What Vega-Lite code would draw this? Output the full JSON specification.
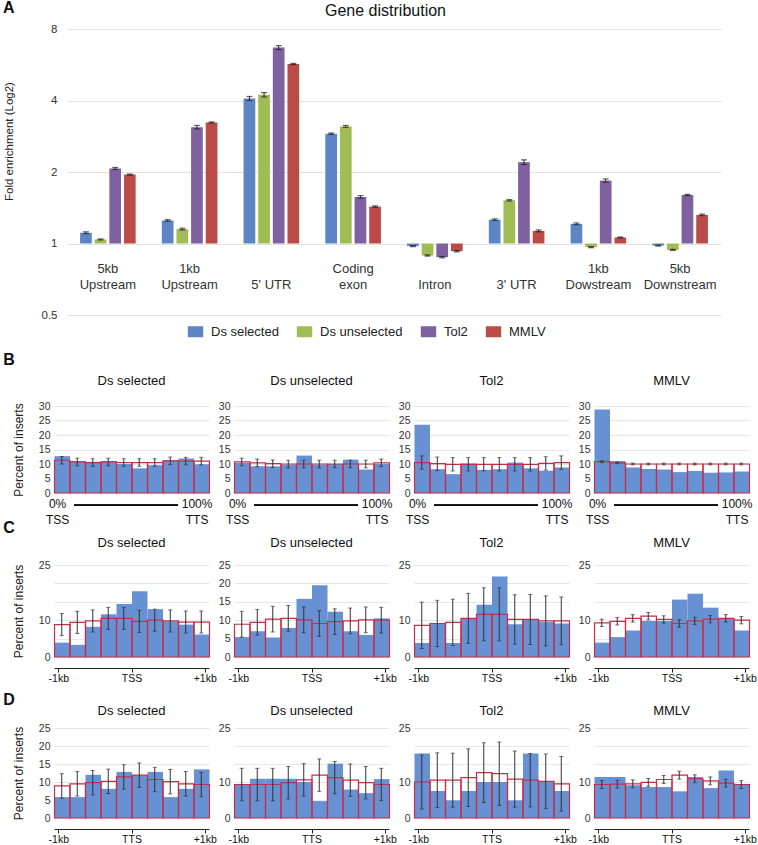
{
"$schema":"https://vega.github.io/schema/vega-lite/v6.json",
"padding":{"left":3,"top":0,"right":0,"bottom":0},
"config":{"font":"Liberation Sans","view":{"stroke":null},"title":{"fontWeight":"normal","color":"#111","fontSize":13},"axis":{"labelColor":"#333","titleColor":"#222","titleFontWeight":"normal","labelOverlap":false}},
"datasets":{
"geneA":[
{"cat":"5kb Upstream","series":"Ds selected","value":1.11,"lo":1.10,"hi":1.12},
{"cat":"5kb Upstream","series":"Ds unselected","value":1.04,"lo":1.035,"hi":1.045},
{"cat":"5kb Upstream","series":"Tol2","value":2.07,"lo":2.05,"hi":2.09},
{"cat":"5kb Upstream","series":"MMLV","value":1.95,"lo":1.94,"hi":1.96},
{"cat":"1kb Upstream","series":"Ds selected","value":1.25,"lo":1.24,"hi":1.26},
{"cat":"1kb Upstream","series":"Ds unselected","value":1.15,"lo":1.14,"hi":1.16},
{"cat":"1kb Upstream","series":"Tol2","value":3.09,"lo":3.04,"hi":3.14},
{"cat":"1kb Upstream","series":"MMLV","value":3.23,"lo":3.21,"hi":3.25},
{"cat":"5' UTR","series":"Ds selected","value":4.08,"lo":4.0,"hi":4.16},
{"cat":"5' UTR","series":"Ds unselected","value":4.23,"lo":4.14,"hi":4.32},
{"cat":"5' UTR","series":"Tol2","value":6.68,"lo":6.55,"hi":6.81},
{"cat":"5' UTR","series":"MMLV","value":5.70,"lo":5.67,"hi":5.73},
{"cat":"Coding exon","series":"Ds selected","value":2.90,"lo":2.88,"hi":2.92},
{"cat":"Coding exon","series":"Ds unselected","value":3.11,"lo":3.08,"hi":3.14},
{"cat":"Coding exon","series":"Tol2","value":1.57,"lo":1.55,"hi":1.59},
{"cat":"Coding exon","series":"MMLV","value":1.43,"lo":1.42,"hi":1.44},
{"cat":"Intron","series":"Ds selected","value":0.975,"lo":0.97,"hi":0.98},
{"cat":"Intron","series":"Ds unselected","value":0.89,"lo":0.885,"hi":0.895},
{"cat":"Intron","series":"Tol2","value":0.876,"lo":0.87,"hi":0.882},
{"cat":"Intron","series":"MMLV","value":0.928,"lo":0.922,"hi":0.934},
{"cat":"3' UTR","series":"Ds selected","value":1.26,"lo":1.25,"hi":1.27},
{"cat":"3' UTR","series":"Ds unselected","value":1.52,"lo":1.51,"hi":1.53},
{"cat":"3' UTR","series":"Tol2","value":2.20,"lo":2.15,"hi":2.25},
{"cat":"3' UTR","series":"MMLV","value":1.13,"lo":1.12,"hi":1.14},
{"cat":"1kb Dowstream","series":"Ds selected","value":1.21,"lo":1.2,"hi":1.22},
{"cat":"1kb Dowstream","series":"Ds unselected","value":0.965,"lo":0.96,"hi":0.97},
{"cat":"1kb Dowstream","series":"Tol2","value":1.84,"lo":1.81,"hi":1.87},
{"cat":"1kb Dowstream","series":"MMLV","value":1.06,"lo":1.055,"hi":1.065},
{"cat":"5kb Downstream","series":"Ds selected","value":0.98,"lo":0.975,"hi":0.985},
{"cat":"5kb Downstream","series":"Ds unselected","value":0.94,"lo":0.935,"hi":0.945},
{"cat":"5kb Downstream","series":"Tol2","value":1.60,"lo":1.59,"hi":1.61},
{"cat":"5kb Downstream","series":"MMLV","value":1.32,"lo":1.31,"hi":1.33}
],
"hist":[
{"row":"B","panel":"Ds selected","start":0,"end":10,"mid":5,"obs":12.7,"exp":11.3,"lo":10.0,"hi":12.6},
{"row":"B","panel":"Ds selected","start":10,"end":20,"mid":15,"obs":11.0,"exp":10.7,"lo":9.4,"hi":12.0},
{"row":"B","panel":"Ds selected","start":20,"end":30,"mid":25,"obs":10.5,"exp":10.5,"lo":9.2,"hi":11.8},
{"row":"B","panel":"Ds selected","start":30,"end":40,"mid":35,"obs":11.0,"exp":10.7,"lo":9.4,"hi":12.0},
{"row":"B","panel":"Ds selected","start":40,"end":50,"mid":45,"obs":10.0,"exp":10.5,"lo":9.2,"hi":11.8},
{"row":"B","panel":"Ds selected","start":50,"end":60,"mid":55,"obs":8.5,"exp":10.5,"lo":9.2,"hi":11.8},
{"row":"B","panel":"Ds selected","start":60,"end":70,"mid":65,"obs":9.6,"exp":10.5,"lo":9.2,"hi":11.8},
{"row":"B","panel":"Ds selected","start":70,"end":80,"mid":75,"obs":11.3,"exp":11.1,"lo":9.8,"hi":12.4},
{"row":"B","panel":"Ds selected","start":80,"end":90,"mid":85,"obs":11.9,"exp":11.0,"lo":9.7,"hi":12.3},
{"row":"B","panel":"Ds selected","start":90,"end":100,"mid":95,"obs":9.9,"exp":11.0,"lo":9.7,"hi":12.3},
{"row":"B","panel":"Ds unselected","start":0,"end":10,"mid":5,"obs":10.4,"exp":10.7,"lo":9.4,"hi":12.0},
{"row":"B","panel":"Ds unselected","start":10,"end":20,"mid":15,"obs":9.2,"exp":10.4,"lo":9.1,"hi":11.7},
{"row":"B","panel":"Ds unselected","start":20,"end":30,"mid":25,"obs":9.2,"exp":10.1,"lo":8.8,"hi":11.4},
{"row":"B","panel":"Ds unselected","start":30,"end":40,"mid":35,"obs":9.8,"exp":10.0,"lo":8.7,"hi":11.3},
{"row":"B","panel":"Ds unselected","start":40,"end":50,"mid":45,"obs":12.9,"exp":10.0,"lo":8.7,"hi":11.3},
{"row":"B","panel":"Ds unselected","start":50,"end":60,"mid":55,"obs":9.8,"exp":10.0,"lo":8.7,"hi":11.3},
{"row":"B","panel":"Ds unselected","start":60,"end":70,"mid":65,"obs":10.0,"exp":10.0,"lo":8.7,"hi":11.3},
{"row":"B","panel":"Ds unselected","start":70,"end":80,"mid":75,"obs":11.5,"exp":10.0,"lo":8.7,"hi":11.3},
{"row":"B","panel":"Ds unselected","start":80,"end":90,"mid":85,"obs":8.1,"exp":10.0,"lo":8.7,"hi":11.3},
{"row":"B","panel":"Ds unselected","start":90,"end":100,"mid":95,"obs":10.0,"exp":10.4,"lo":9.1,"hi":11.7},
{"row":"B","panel":"Tol2","start":0,"end":10,"mid":5,"obs":23.5,"exp":10.5,"lo":8.2,"hi":12.8},
{"row":"B","panel":"Tol2","start":10,"end":20,"mid":15,"obs":8.2,"exp":10.1,"lo":7.8,"hi":12.4},
{"row":"B","panel":"Tol2","start":20,"end":30,"mid":25,"obs":6.5,"exp":9.9,"lo":7.6,"hi":12.2},
{"row":"B","panel":"Tol2","start":30,"end":40,"mid":35,"obs":10.2,"exp":9.9,"lo":7.6,"hi":12.2},
{"row":"B","panel":"Tol2","start":40,"end":50,"mid":45,"obs":8.0,"exp":9.9,"lo":7.6,"hi":12.2},
{"row":"B","panel":"Tol2","start":50,"end":60,"mid":55,"obs":8.2,"exp":9.9,"lo":7.6,"hi":12.2},
{"row":"B","panel":"Tol2","start":60,"end":70,"mid":65,"obs":10.5,"exp":9.9,"lo":7.6,"hi":12.2},
{"row":"B","panel":"Tol2","start":70,"end":80,"mid":75,"obs":8.5,"exp":9.9,"lo":7.6,"hi":12.2},
{"row":"B","panel":"Tol2","start":80,"end":90,"mid":85,"obs":7.7,"exp":10.2,"lo":7.9,"hi":12.5},
{"row":"B","panel":"Tol2","start":90,"end":100,"mid":95,"obs":8.8,"exp":10.5,"lo":8.2,"hi":12.8},
{"row":"B","panel":"MMLV","start":0,"end":10,"mid":5,"obs":28.8,"exp":10.8,"lo":10.5,"hi":11.1},
{"row":"B","panel":"MMLV","start":10,"end":20,"mid":15,"obs":11.0,"exp":10.4,"lo":10.1,"hi":10.7},
{"row":"B","panel":"MMLV","start":20,"end":30,"mid":25,"obs":8.8,"exp":10.0,"lo":9.7,"hi":10.3},
{"row":"B","panel":"MMLV","start":30,"end":40,"mid":35,"obs":8.3,"exp":10.0,"lo":9.7,"hi":10.3},
{"row":"B","panel":"MMLV","start":40,"end":50,"mid":45,"obs":8.1,"exp":10.0,"lo":9.7,"hi":10.3},
{"row":"B","panel":"MMLV","start":50,"end":60,"mid":55,"obs":7.2,"exp":10.0,"lo":9.7,"hi":10.3},
{"row":"B","panel":"MMLV","start":60,"end":70,"mid":65,"obs":7.6,"exp":10.0,"lo":9.7,"hi":10.3},
{"row":"B","panel":"MMLV","start":70,"end":80,"mid":75,"obs":7.0,"exp":10.0,"lo":9.7,"hi":10.3},
{"row":"B","panel":"MMLV","start":80,"end":90,"mid":85,"obs":7.1,"exp":10.0,"lo":9.7,"hi":10.3},
{"row":"B","panel":"MMLV","start":90,"end":100,"mid":95,"obs":7.4,"exp":10.0,"lo":9.7,"hi":10.3},
{"row":"C","panel":"Ds selected","start":-1000,"end":-800,"mid":-900,"obs":3.9,"exp":8.8,"lo":5.8,"hi":11.8},
{"row":"C","panel":"Ds selected","start":-800,"end":-600,"mid":-700,"obs":3.3,"exp":9.4,"lo":6.4,"hi":12.4},
{"row":"C","panel":"Ds selected","start":-600,"end":-400,"mid":-500,"obs":8.2,"exp":9.8,"lo":6.8,"hi":12.8},
{"row":"C","panel":"Ds selected","start":-400,"end":-200,"mid":-300,"obs":11.6,"exp":10.5,"lo":7.5,"hi":13.5},
{"row":"C","panel":"Ds selected","start":-200,"end":0,"mid":-100,"obs":14.4,"exp":10.5,"lo":7.5,"hi":13.5},
{"row":"C","panel":"Ds selected","start":0,"end":200,"mid":100,"obs":17.9,"exp":9.7,"lo":6.7,"hi":12.7},
{"row":"C","panel":"Ds selected","start":200,"end":400,"mid":300,"obs":13.0,"exp":10.0,"lo":7.0,"hi":13.0},
{"row":"C","panel":"Ds selected","start":400,"end":600,"mid":500,"obs":9.7,"exp":9.8,"lo":6.8,"hi":12.8},
{"row":"C","panel":"Ds selected","start":600,"end":800,"mid":700,"obs":8.8,"exp":9.5,"lo":6.5,"hi":12.5},
{"row":"C","panel":"Ds selected","start":800,"end":1000,"mid":900,"obs":6.1,"exp":9.5,"lo":6.5,"hi":12.5},
{"row":"C","panel":"Ds unselected","start":-1000,"end":-800,"mid":-900,"obs":5.4,"exp":8.9,"lo":5.4,"hi":12.4},
{"row":"C","panel":"Ds unselected","start":-800,"end":-600,"mid":-700,"obs":7.0,"exp":9.4,"lo":5.9,"hi":12.9},
{"row":"C","panel":"Ds unselected","start":-600,"end":-400,"mid":-500,"obs":5.3,"exp":10.3,"lo":6.8,"hi":13.8},
{"row":"C","panel":"Ds unselected","start":-400,"end":-200,"mid":-300,"obs":7.9,"exp":10.5,"lo":7.0,"hi":14.0},
{"row":"C","panel":"Ds unselected","start":-200,"end":0,"mid":-100,"obs":15.8,"exp":10.1,"lo":6.6,"hi":13.6},
{"row":"C","panel":"Ds unselected","start":0,"end":200,"mid":100,"obs":19.5,"exp":9.1,"lo":5.6,"hi":12.6},
{"row":"C","panel":"Ds unselected","start":200,"end":400,"mid":300,"obs":12.3,"exp":9.6,"lo":6.1,"hi":13.1},
{"row":"C","panel":"Ds unselected","start":400,"end":600,"mid":500,"obs":7.0,"exp":9.8,"lo":6.3,"hi":13.3},
{"row":"C","panel":"Ds unselected","start":600,"end":800,"mid":700,"obs":6.0,"exp":10.1,"lo":6.6,"hi":13.6},
{"row":"C","panel":"Ds unselected","start":800,"end":1000,"mid":900,"obs":10.5,"exp":10.0,"lo":6.5,"hi":13.5},
{"row":"C","panel":"Tol2","start":-1000,"end":-800,"mid":-900,"obs":3.8,"exp":8.6,"lo":2.3,"hi":14.9},
{"row":"C","panel":"Tol2","start":-800,"end":-600,"mid":-700,"obs":9.1,"exp":9.1,"lo":2.8,"hi":15.4},
{"row":"C","panel":"Tol2","start":-600,"end":-400,"mid":-500,"obs":3.8,"exp":9.4,"lo":3.1,"hi":15.7},
{"row":"C","panel":"Tol2","start":-400,"end":-200,"mid":-300,"obs":10.5,"exp":10.5,"lo":3.7,"hi":17.3},
{"row":"C","panel":"Tol2","start":-200,"end":0,"mid":-100,"obs":14.2,"exp":11.6,"lo":4.4,"hi":18.8},
{"row":"C","panel":"Tol2","start":0,"end":200,"mid":100,"obs":21.9,"exp":11.6,"lo":4.4,"hi":18.8},
{"row":"C","panel":"Tol2","start":200,"end":400,"mid":300,"obs":8.9,"exp":10.2,"lo":3.5,"hi":16.9},
{"row":"C","panel":"Tol2","start":400,"end":600,"mid":500,"obs":10.3,"exp":10.2,"lo":3.4,"hi":17.0},
{"row":"C","panel":"Tol2","start":600,"end":800,"mid":700,"obs":9.5,"exp":9.8,"lo":3.0,"hi":16.6},
{"row":"C","panel":"Tol2","start":800,"end":1000,"mid":900,"obs":9.1,"exp":9.8,"lo":3.3,"hi":16.3},
{"row":"C","panel":"MMLV","start":-1000,"end":-800,"mid":-900,"obs":3.9,"exp":9.3,"lo":8.3,"hi":10.3},
{"row":"C","panel":"MMLV","start":-800,"end":-600,"mid":-700,"obs":5.4,"exp":9.7,"lo":8.7,"hi":10.7},
{"row":"C","panel":"MMLV","start":-600,"end":-400,"mid":-500,"obs":7.2,"exp":10.5,"lo":9.5,"hi":11.5},
{"row":"C","panel":"MMLV","start":-400,"end":-200,"mid":-300,"obs":9.8,"exp":11.1,"lo":10.1,"hi":12.1},
{"row":"C","panel":"MMLV","start":-200,"end":0,"mid":-100,"obs":9.8,"exp":10.2,"lo":9.2,"hi":11.2},
{"row":"C","panel":"MMLV","start":0,"end":200,"mid":100,"obs":15.6,"exp":9.1,"lo":8.1,"hi":10.1},
{"row":"C","panel":"MMLV","start":200,"end":400,"mid":300,"obs":17.2,"exp":9.8,"lo":8.8,"hi":10.8},
{"row":"C","panel":"MMLV","start":400,"end":600,"mid":500,"obs":13.4,"exp":10.3,"lo":9.3,"hi":11.3},
{"row":"C","panel":"MMLV","start":600,"end":800,"mid":700,"obs":10.5,"exp":10.5,"lo":9.5,"hi":11.5},
{"row":"C","panel":"MMLV","start":800,"end":1000,"mid":900,"obs":7.2,"exp":10.0,"lo":9.0,"hi":11.0},
{"row":"D","panel":"Ds selected","start":-1000,"end":-800,"mid":-900,"obs":5.8,"exp":8.9,"lo":5.5,"hi":12.3},
{"row":"D","panel":"Ds selected","start":-800,"end":-600,"mid":-700,"obs":5.8,"exp":9.5,"lo":6.1,"hi":12.9},
{"row":"D","panel":"Ds selected","start":-600,"end":-400,"mid":-500,"obs":12.0,"exp":9.8,"lo":6.4,"hi":13.2},
{"row":"D","panel":"Ds selected","start":-400,"end":-200,"mid":-300,"obs":8.1,"exp":10.2,"lo":6.8,"hi":13.6},
{"row":"D","panel":"Ds selected","start":-200,"end":0,"mid":-100,"obs":12.8,"exp":11.4,"lo":8.0,"hi":14.8},
{"row":"D","panel":"Ds selected","start":0,"end":200,"mid":100,"obs":11.9,"exp":11.9,"lo":8.5,"hi":15.3},
{"row":"D","panel":"Ds selected","start":200,"end":400,"mid":300,"obs":12.8,"exp":10.7,"lo":7.3,"hi":14.1},
{"row":"D","panel":"Ds selected","start":400,"end":600,"mid":500,"obs":5.8,"exp":10.1,"lo":6.7,"hi":13.5},
{"row":"D","panel":"Ds selected","start":600,"end":800,"mid":700,"obs":8.1,"exp":9.5,"lo":6.1,"hi":12.9},
{"row":"D","panel":"Ds selected","start":800,"end":1000,"mid":900,"obs":13.5,"exp":9.3,"lo":5.9,"hi":12.7},
{"row":"D","panel":"Ds unselected","start":-1000,"end":-800,"mid":-900,"obs":9.3,"exp":9.3,"lo":4.8,"hi":13.8},
{"row":"D","panel":"Ds unselected","start":-800,"end":-600,"mid":-700,"obs":10.9,"exp":9.3,"lo":4.8,"hi":13.8},
{"row":"D","panel":"Ds unselected","start":-600,"end":-400,"mid":-500,"obs":10.9,"exp":9.3,"lo":4.8,"hi":13.8},
{"row":"D","panel":"Ds unselected","start":-400,"end":-200,"mid":-300,"obs":10.9,"exp":9.8,"lo":5.3,"hi":14.3},
{"row":"D","panel":"Ds unselected","start":-200,"end":0,"mid":-100,"obs":10.0,"exp":10.6,"lo":6.1,"hi":15.1},
{"row":"D","panel":"Ds unselected","start":0,"end":200,"mid":100,"obs":4.7,"exp":11.9,"lo":7.4,"hi":16.4},
{"row":"D","panel":"Ds unselected","start":200,"end":400,"mid":300,"obs":15.1,"exp":11.2,"lo":6.7,"hi":15.7},
{"row":"D","panel":"Ds unselected","start":400,"end":600,"mid":500,"obs":7.9,"exp":10.5,"lo":6.0,"hi":15.0},
{"row":"D","panel":"Ds unselected","start":600,"end":800,"mid":700,"obs":6.9,"exp":9.8,"lo":5.3,"hi":14.3},
{"row":"D","panel":"Ds unselected","start":800,"end":1000,"mid":900,"obs":10.8,"exp":9.3,"lo":4.8,"hi":13.8},
{"row":"D","panel":"Tol2","start":-1000,"end":-800,"mid":-900,"obs":17.9,"exp":10.0,"lo":2.5,"hi":17.5},
{"row":"D","panel":"Tol2","start":-800,"end":-600,"mid":-700,"obs":7.5,"exp":10.5,"lo":2.9,"hi":18.1},
{"row":"D","panel":"Tol2","start":-600,"end":-400,"mid":-500,"obs":4.9,"exp":10.5,"lo":3.0,"hi":18.0},
{"row":"D","panel":"Tol2","start":-400,"end":-200,"mid":-300,"obs":7.5,"exp":11.2,"lo":3.2,"hi":19.2},
{"row":"D","panel":"Tol2","start":-200,"end":0,"mid":-100,"obs":10.0,"exp":12.6,"lo":4.3,"hi":20.9},
{"row":"D","panel":"Tol2","start":0,"end":200,"mid":100,"obs":10.0,"exp":12.3,"lo":3.5,"hi":21.1},
{"row":"D","panel":"Tol2","start":200,"end":400,"mid":300,"obs":4.9,"exp":10.8,"lo":3.0,"hi":18.6},
{"row":"D","panel":"Tol2","start":400,"end":600,"mid":500,"obs":17.9,"exp":10.5,"lo":3.1,"hi":17.9},
{"row":"D","panel":"Tol2","start":600,"end":800,"mid":700,"obs":10.0,"exp":10.2,"lo":2.6,"hi":17.8},
{"row":"D","panel":"Tol2","start":800,"end":1000,"mid":900,"obs":7.5,"exp":9.5,"lo":1.9,"hi":17.1},
{"row":"D","panel":"MMLV","start":-1000,"end":-800,"mid":-900,"obs":11.4,"exp":9.3,"lo":8.2,"hi":10.4},
{"row":"D","panel":"MMLV","start":-800,"end":-600,"mid":-700,"obs":11.4,"exp":9.4,"lo":8.3,"hi":10.5},
{"row":"D","panel":"MMLV","start":-600,"end":-400,"mid":-500,"obs":9.1,"exp":9.5,"lo":8.4,"hi":10.6},
{"row":"D","panel":"MMLV","start":-400,"end":-200,"mid":-300,"obs":8.6,"exp":9.9,"lo":8.8,"hi":11.0},
{"row":"D","panel":"MMLV","start":-200,"end":0,"mid":-100,"obs":8.6,"exp":10.7,"lo":9.6,"hi":11.8},
{"row":"D","panel":"MMLV","start":0,"end":200,"mid":100,"obs":7.4,"exp":11.9,"lo":10.8,"hi":13.0},
{"row":"D","panel":"MMLV","start":200,"end":400,"mid":300,"obs":11.4,"exp":10.9,"lo":9.8,"hi":12.0},
{"row":"D","panel":"MMLV","start":400,"end":600,"mid":500,"obs":8.3,"exp":10.3,"lo":9.2,"hi":11.4},
{"row":"D","panel":"MMLV","start":600,"end":800,"mid":700,"obs":13.2,"exp":9.7,"lo":8.6,"hi":10.8},
{"row":"D","panel":"MMLV","start":800,"end":1000,"mid":900,"obs":9.3,"exp":9.3,"lo":8.2,"hi":10.4}
]
},
"columns":1,
"align":"none",
"spacing":{"row":-10,"column":0},
"concat":[
{
"data":{"name":"geneA"},
"title":{"text":"A","anchor":"start","frame":"bounds","fontSize":16,"fontWeight":"bold","offset":-13},
"hconcat":[{
"width":667,"height":286,
"title":{"text":"Gene distribution","fontSize":16,"offset":4,"frame":"group","dx":-2},
"encoding":{
"x":{"field":"cat","type":"nominal","sort":["5kb Upstream","1kb Upstream","5' UTR","Coding exon","Intron","3' UTR","1kb Dowstream","5kb Downstream"],"scale":{"range":[13,667],"paddingInner":0.32,"paddingOuter":0.16},
"axis":{"title":null,"domain":false,"ticks":false,"labelAngle":0,"labelFontSize":13,"labelColor":"#333","labelPadding":0,"offset":-47,"labelBaseline":"middle","labelLineHeight":16,"labelExpr":"indexof(datum.label, 'UTR') >= 0 || datum.label == 'Intron' ? ['', datum.label] : split(datum.label, ' ')"}},
"xOffset":{"field":"series","type":"nominal","sort":["Ds selected","Ds unselected","Tol2","MMLV"],"scale":{"paddingInner":0.2,"paddingOuter":0}}
},
"layer":[
{"mark":{"type":"bar"},
"encoding":{
"y":{"field":"value","type":"quantitative","scale":{"type":"log","base":2,"domain":[0.5,8],"nice":false},
"axis":{"title":"Fold enrichment (Log2)","values":[0.5,1,2,4,8],"format":"~g","domain":false,"ticks":false,"gridColor":"#e2e2e2","labelFontSize":11.5,"labelPadding":-3,"labelOverlap":false,"titleFontSize":11.5,"titlePadding":27,"titleY":112}},
"y2":{"datum":1},
"color":{"field":"series","type":"nominal","scale":{"domain":["Ds selected","Ds unselected","Tol2","MMLV"],"range":["#5d85c4","#a0bc55","#7f61a0","#bb4b47"]},
"legend":{"orient":"none","legendX":135,"legendY":296,"direction":"horizontal","title":null,"labelFontSize":13,"labelColor":"#222","symbolType":"M-1.4,-1H1.4V1H-1.4Z","symbolSize":121,"symbolStrokeWidth":0,"columnPadding":17,"labelOffset":9}}
}},
{"mark":{"type":"rule","color":"#222"},"encoding":{"y":{"field":"lo","type":"quantitative"},"y2":{"field":"hi"}}},
{"mark":{"type":"tick","orient":"horizontal","size":6,"thickness":1.2,"color":"#222"},"encoding":{"y":{"field":"lo","type":"quantitative"}}},
{"mark":{"type":"tick","orient":"horizontal","size":6,"thickness":1.2,"color":"#222"},"encoding":{"y":{"field":"hi","type":"quantitative"}}}
]
}]
},
{
"data":{"name":"hist"},
"title":{"text":["","B"],"lineHeight":41,"anchor":"start","frame":"bounds","fontSize":16,"fontWeight":"bold","offset":7,"dx":-9},
"bounds":"flush","spacing":25,
"hconcat":[
{"width":155,"height":87,"title":{"text":"Ds selected","offset":13},
"transform":[{"filter":"datum.row == 'B' && datum.panel == 'Ds selected'"}],
"layer":[
{"mark":{"type":"bar","color":"#6791d2","binSpacing":0},"encoding":{
"x":{"field":"start","type":"quantitative","bin":"binned","scale":{"domain":[0,100],"nice":false,"zero":false},"axis":{"title":null,"values":[2,92],"labelExpr":"datum.value < 50 ? ['0%','TSS'] : ['100%','TTS']","domain":false,"ticks":false,"grid":false,"labelFontSize":12,"labelColor":"#111","labelPadding":5,"labelLineHeight":16,"labelFlush":false,"labelOverlap":false}},
"x2":{"field":"end"},
"y":{"field":"obs","type":"quantitative","scale":{"domain":[0,30],"nice":false},"axis":{"title":"Percent of inserts","values":[0,5,10,15,20,25,30],"domain":false,"ticks":false,"gridColor":"#e6e6e6","labelFontSize":10.5,"labelPadding":4,"labelOverlap":false,"titleFontSize":12,"titlePadding":13}}}},
{"mark":{"type":"bar","filled":false,"color":"#c62f48","strokeWidth":1.2,"binSpacing":0},"encoding":{
"x":{"field":"start","type":"quantitative","bin":"binned","axis":{"title":null,"values":[2,92],"labelExpr":"datum.value < 50 ? ['0%','TSS'] : ['100%','TTS']","domain":false,"ticks":false,"grid":false,"labelFontSize":12,"labelColor":"#111","labelPadding":5,"labelLineHeight":16,"labelFlush":false,"labelOverlap":false}},
"x2":{"field":"end"},
"y":{"field":"exp","type":"quantitative","axis":{"title":"Percent of inserts","values":[0,5,10,15,20,25,30],"domain":false,"ticks":false,"gridColor":"#e6e6e6","labelFontSize":10.5,"labelPadding":4,"labelOverlap":false,"titleFontSize":12,"titlePadding":13}}}},
{"mark":{"type":"rule","color":"#333"},"encoding":{
"x":{"field":"mid","type":"quantitative","axis":{"title":null,"values":[2,92],"labelExpr":"datum.value < 50 ? ['0%','TSS'] : ['100%','TTS']","domain":false,"ticks":false,"grid":false,"labelFontSize":12,"labelColor":"#111","labelPadding":5,"labelLineHeight":16,"labelFlush":false,"labelOverlap":false}},
"y":{"field":"lo","type":"quantitative","axis":{"title":"Percent of inserts","values":[0,5,10,15,20,25,30],"domain":false,"ticks":false,"gridColor":"#e6e6e6","labelFontSize":10.5,"labelPadding":4,"labelOverlap":false,"titleFontSize":12,"titlePadding":13}},"y2":{"field":"hi"}}},
{"mark":{"type":"tick","orient":"horizontal","size":4,"thickness":1,"color":"#333"},"encoding":{
"x":{"field":"mid","type":"quantitative","axis":{"title":null,"values":[2,92],"labelExpr":"datum.value < 50 ? ['0%','TSS'] : ['100%','TTS']","domain":false,"ticks":false,"grid":false,"labelFontSize":12,"labelColor":"#111","labelPadding":5,"labelLineHeight":16,"labelFlush":false,"labelOverlap":false}},
"y":{"field":"lo","type":"quantitative","axis":{"title":"Percent of inserts","values":[0,5,10,15,20,25,30],"domain":false,"ticks":false,"gridColor":"#e6e6e6","labelFontSize":10.5,"labelPadding":4,"labelOverlap":false,"titleFontSize":12,"titlePadding":13}}}},
{"mark":{"type":"tick","orient":"horizontal","size":4,"thickness":1,"color":"#333"},"encoding":{
"x":{"field":"mid","type":"quantitative","axis":{"title":null,"values":[2,92],"labelExpr":"datum.value < 50 ? ['0%','TSS'] : ['100%','TTS']","domain":false,"ticks":false,"grid":false,"labelFontSize":12,"labelColor":"#111","labelPadding":5,"labelLineHeight":16,"labelFlush":false,"labelOverlap":false}},
"y":{"field":"hi","type":"quantitative","axis":{"title":"Percent of inserts","values":[0,5,10,15,20,25,30],"domain":false,"ticks":false,"gridColor":"#e6e6e6","labelFontSize":10.5,"labelPadding":4,"labelOverlap":false,"titleFontSize":12,"titlePadding":13}}}},
{"mark":{"type":"rule","clip":false,"color":"#111","strokeWidth":1.2},"encoding":{
"x":{"datum":13,"axis":{"title":null,"values":[2,92],"labelExpr":"datum.value < 50 ? ['0%','TSS'] : ['100%','TTS']","domain":false,"ticks":false,"grid":false,"labelFontSize":12,"labelColor":"#111","labelPadding":5,"labelLineHeight":16,"labelFlush":false,"labelOverlap":false}},"x2":{"datum":80},
"y":{"datum":-4.3,"axis":{"title":"Percent of inserts","values":[0,5,10,15,20,25,30],"domain":false,"ticks":false,"gridColor":"#e6e6e6","labelFontSize":10.5,"labelPadding":4,"labelOverlap":false,"titleFontSize":12,"titlePadding":13}}}}
]},
{"width":155,"height":87,"title":{"text":"Ds unselected","offset":13},
"transform":[{"filter":"datum.row == 'B' && datum.panel == 'Ds unselected'"}],
"layer":[
{"mark":{"type":"bar","color":"#6791d2","binSpacing":0},"encoding":{
"x":{"field":"start","type":"quantitative","bin":"binned","scale":{"domain":[0,100],"nice":false,"zero":false},"axis":{"title":null,"values":[2,92],"labelExpr":"datum.value < 50 ? ['0%','TSS'] : ['100%','TTS']","domain":false,"ticks":false,"grid":false,"labelFontSize":12,"labelColor":"#111","labelPadding":5,"labelLineHeight":16,"labelFlush":false,"labelOverlap":false}},
"x2":{"field":"end"},
"y":{"field":"obs","type":"quantitative","scale":{"domain":[0,30],"nice":false},"axis":{"title":null,"values":[0,5,10,15,20,25,30],"domain":false,"ticks":false,"gridColor":"#e6e6e6","labelFontSize":10.5,"labelPadding":4,"labelOverlap":false}}}},
{"mark":{"type":"bar","filled":false,"color":"#c62f48","strokeWidth":1.2,"binSpacing":0},"encoding":{
"x":{"field":"start","type":"quantitative","bin":"binned","axis":{"title":null,"values":[2,92],"labelExpr":"datum.value < 50 ? ['0%','TSS'] : ['100%','TTS']","domain":false,"ticks":false,"grid":false,"labelFontSize":12,"labelColor":"#111","labelPadding":5,"labelLineHeight":16,"labelFlush":false,"labelOverlap":false}},
"x2":{"field":"end"},
"y":{"field":"exp","type":"quantitative","axis":{"title":null,"values":[0,5,10,15,20,25,30],"domain":false,"ticks":false,"gridColor":"#e6e6e6","labelFontSize":10.5,"labelPadding":4,"labelOverlap":false}}}},
{"mark":{"type":"rule","color":"#333"},"encoding":{
"x":{"field":"mid","type":"quantitative","axis":{"title":null,"values":[2,92],"labelExpr":"datum.value < 50 ? ['0%','TSS'] : ['100%','TTS']","domain":false,"ticks":false,"grid":false,"labelFontSize":12,"labelColor":"#111","labelPadding":5,"labelLineHeight":16,"labelFlush":false,"labelOverlap":false}},
"y":{"field":"lo","type":"quantitative","axis":{"title":null,"values":[0,5,10,15,20,25,30],"domain":false,"ticks":false,"gridColor":"#e6e6e6","labelFontSize":10.5,"labelPadding":4,"labelOverlap":false}},"y2":{"field":"hi"}}},
{"mark":{"type":"tick","orient":"horizontal","size":4,"thickness":1,"color":"#333"},"encoding":{
"x":{"field":"mid","type":"quantitative","axis":{"title":null,"values":[2,92],"labelExpr":"datum.value < 50 ? ['0%','TSS'] : ['100%','TTS']","domain":false,"ticks":false,"grid":false,"labelFontSize":12,"labelColor":"#111","labelPadding":5,"labelLineHeight":16,"labelFlush":false,"labelOverlap":false}},
"y":{"field":"lo","type":"quantitative","axis":{"title":null,"values":[0,5,10,15,20,25,30],"domain":false,"ticks":false,"gridColor":"#e6e6e6","labelFontSize":10.5,"labelPadding":4,"labelOverlap":false}}}},
{"mark":{"type":"tick","orient":"horizontal","size":4,"thickness":1,"color":"#333"},"encoding":{
"x":{"field":"mid","type":"quantitative","axis":{"title":null,"values":[2,92],"labelExpr":"datum.value < 50 ? ['0%','TSS'] : ['100%','TTS']","domain":false,"ticks":false,"grid":false,"labelFontSize":12,"labelColor":"#111","labelPadding":5,"labelLineHeight":16,"labelFlush":false,"labelOverlap":false}},
"y":{"field":"hi","type":"quantitative","axis":{"title":null,"values":[0,5,10,15,20,25,30],"domain":false,"ticks":false,"gridColor":"#e6e6e6","labelFontSize":10.5,"labelPadding":4,"labelOverlap":false}}}},
{"mark":{"type":"rule","clip":false,"color":"#111","strokeWidth":1.2},"encoding":{
"x":{"datum":13,"axis":{"title":null,"values":[2,92],"labelExpr":"datum.value < 50 ? ['0%','TSS'] : ['100%','TTS']","domain":false,"ticks":false,"grid":false,"labelFontSize":12,"labelColor":"#111","labelPadding":5,"labelLineHeight":16,"labelFlush":false,"labelOverlap":false}},"x2":{"datum":80},
"y":{"datum":-4.3,"axis":{"title":null,"values":[0,5,10,15,20,25,30],"domain":false,"ticks":false,"gridColor":"#e6e6e6","labelFontSize":10.5,"labelPadding":4,"labelOverlap":false}}}}
]},
{"width":155,"height":87,"title":{"text":"Tol2","offset":13},
"transform":[{"filter":"datum.row == 'B' && datum.panel == 'Tol2'"}],
"layer":[
{"mark":{"type":"bar","color":"#6791d2","binSpacing":0},"encoding":{
"x":{"field":"start","type":"quantitative","bin":"binned","scale":{"domain":[0,100],"nice":false,"zero":false},"axis":{"title":null,"values":[2,92],"labelExpr":"datum.value < 50 ? ['0%','TSS'] : ['100%','TTS']","domain":false,"ticks":false,"grid":false,"labelFontSize":12,"labelColor":"#111","labelPadding":5,"labelLineHeight":16,"labelFlush":false,"labelOverlap":false}},
"x2":{"field":"end"},
"y":{"field":"obs","type":"quantitative","scale":{"domain":[0,30],"nice":false},"axis":{"title":null,"values":[0,5,10,15,20,25,30],"domain":false,"ticks":false,"gridColor":"#e6e6e6","labelFontSize":10.5,"labelPadding":4,"labelOverlap":false}}}},
{"mark":{"type":"bar","filled":false,"color":"#c62f48","strokeWidth":1.2,"binSpacing":0},"encoding":{
"x":{"field":"start","type":"quantitative","bin":"binned","axis":{"title":null,"values":[2,92],"labelExpr":"datum.value < 50 ? ['0%','TSS'] : ['100%','TTS']","domain":false,"ticks":false,"grid":false,"labelFontSize":12,"labelColor":"#111","labelPadding":5,"labelLineHeight":16,"labelFlush":false,"labelOverlap":false}},
"x2":{"field":"end"},
"y":{"field":"exp","type":"quantitative","axis":{"title":null,"values":[0,5,10,15,20,25,30],"domain":false,"ticks":false,"gridColor":"#e6e6e6","labelFontSize":10.5,"labelPadding":4,"labelOverlap":false}}}},
{"mark":{"type":"rule","color":"#333"},"encoding":{
"x":{"field":"mid","type":"quantitative","axis":{"title":null,"values":[2,92],"labelExpr":"datum.value < 50 ? ['0%','TSS'] : ['100%','TTS']","domain":false,"ticks":false,"grid":false,"labelFontSize":12,"labelColor":"#111","labelPadding":5,"labelLineHeight":16,"labelFlush":false,"labelOverlap":false}},
"y":{"field":"lo","type":"quantitative","axis":{"title":null,"values":[0,5,10,15,20,25,30],"domain":false,"ticks":false,"gridColor":"#e6e6e6","labelFontSize":10.5,"labelPadding":4,"labelOverlap":false}},"y2":{"field":"hi"}}},
{"mark":{"type":"tick","orient":"horizontal","size":4,"thickness":1,"color":"#333"},"encoding":{
"x":{"field":"mid","type":"quantitative","axis":{"title":null,"values":[2,92],"labelExpr":"datum.value < 50 ? ['0%','TSS'] : ['100%','TTS']","domain":false,"ticks":false,"grid":false,"labelFontSize":12,"labelColor":"#111","labelPadding":5,"labelLineHeight":16,"labelFlush":false,"labelOverlap":false}},
"y":{"field":"lo","type":"quantitative","axis":{"title":null,"values":[0,5,10,15,20,25,30],"domain":false,"ticks":false,"gridColor":"#e6e6e6","labelFontSize":10.5,"labelPadding":4,"labelOverlap":false}}}},
{"mark":{"type":"tick","orient":"horizontal","size":4,"thickness":1,"color":"#333"},"encoding":{
"x":{"field":"mid","type":"quantitative","axis":{"title":null,"values":[2,92],"labelExpr":"datum.value < 50 ? ['0%','TSS'] : ['100%','TTS']","domain":false,"ticks":false,"grid":false,"labelFontSize":12,"labelColor":"#111","labelPadding":5,"labelLineHeight":16,"labelFlush":false,"labelOverlap":false}},
"y":{"field":"hi","type":"quantitative","axis":{"title":null,"values":[0,5,10,15,20,25,30],"domain":false,"ticks":false,"gridColor":"#e6e6e6","labelFontSize":10.5,"labelPadding":4,"labelOverlap":false}}}},
{"mark":{"type":"rule","clip":false,"color":"#111","strokeWidth":1.2},"encoding":{
"x":{"datum":13,"axis":{"title":null,"values":[2,92],"labelExpr":"datum.value < 50 ? ['0%','TSS'] : ['100%','TTS']","domain":false,"ticks":false,"grid":false,"labelFontSize":12,"labelColor":"#111","labelPadding":5,"labelLineHeight":16,"labelFlush":false,"labelOverlap":false}},"x2":{"datum":80},
"y":{"datum":-4.3,"axis":{"title":null,"values":[0,5,10,15,20,25,30],"domain":false,"ticks":false,"gridColor":"#e6e6e6","labelFontSize":10.5,"labelPadding":4,"labelOverlap":false}}}}
]},
{"width":155,"height":87,"title":{"text":"MMLV","offset":13},
"transform":[{"filter":"datum.row == 'B' && datum.panel == 'MMLV'"}],
"layer":[
{"mark":{"type":"bar","color":"#6791d2","binSpacing":0},"encoding":{
"x":{"field":"start","type":"quantitative","bin":"binned","scale":{"domain":[0,100],"nice":false,"zero":false},"axis":{"title":null,"values":[2,92],"labelExpr":"datum.value < 50 ? ['0%','TSS'] : ['100%','TTS']","domain":false,"ticks":false,"grid":false,"labelFontSize":12,"labelColor":"#111","labelPadding":5,"labelLineHeight":16,"labelFlush":false,"labelOverlap":false}},
"x2":{"field":"end"},
"y":{"field":"obs","type":"quantitative","scale":{"domain":[0,30],"nice":false},"axis":{"title":null,"values":[0,5,10,15,20,25,30],"domain":false,"ticks":false,"gridColor":"#e6e6e6","labelFontSize":10.5,"labelPadding":4,"labelOverlap":false}}}},
{"mark":{"type":"bar","filled":false,"color":"#c62f48","strokeWidth":1.2,"binSpacing":0},"encoding":{
"x":{"field":"start","type":"quantitative","bin":"binned","axis":{"title":null,"values":[2,92],"labelExpr":"datum.value < 50 ? ['0%','TSS'] : ['100%','TTS']","domain":false,"ticks":false,"grid":false,"labelFontSize":12,"labelColor":"#111","labelPadding":5,"labelLineHeight":16,"labelFlush":false,"labelOverlap":false}},
"x2":{"field":"end"},
"y":{"field":"exp","type":"quantitative","axis":{"title":null,"values":[0,5,10,15,20,25,30],"domain":false,"ticks":false,"gridColor":"#e6e6e6","labelFontSize":10.5,"labelPadding":4,"labelOverlap":false}}}},
{"mark":{"type":"rule","color":"#333"},"encoding":{
"x":{"field":"mid","type":"quantitative","axis":{"title":null,"values":[2,92],"labelExpr":"datum.value < 50 ? ['0%','TSS'] : ['100%','TTS']","domain":false,"ticks":false,"grid":false,"labelFontSize":12,"labelColor":"#111","labelPadding":5,"labelLineHeight":16,"labelFlush":false,"labelOverlap":false}},
"y":{"field":"lo","type":"quantitative","axis":{"title":null,"values":[0,5,10,15,20,25,30],"domain":false,"ticks":false,"gridColor":"#e6e6e6","labelFontSize":10.5,"labelPadding":4,"labelOverlap":false}},"y2":{"field":"hi"}}},
{"mark":{"type":"tick","orient":"horizontal","size":4,"thickness":1,"color":"#333"},"encoding":{
"x":{"field":"mid","type":"quantitative","axis":{"title":null,"values":[2,92],"labelExpr":"datum.value < 50 ? ['0%','TSS'] : ['100%','TTS']","domain":false,"ticks":false,"grid":false,"labelFontSize":12,"labelColor":"#111","labelPadding":5,"labelLineHeight":16,"labelFlush":false,"labelOverlap":false}},
"y":{"field":"lo","type":"quantitative","axis":{"title":null,"values":[0,5,10,15,20,25,30],"domain":false,"ticks":false,"gridColor":"#e6e6e6","labelFontSize":10.5,"labelPadding":4,"labelOverlap":false}}}},
{"mark":{"type":"tick","orient":"horizontal","size":4,"thickness":1,"color":"#333"},"encoding":{
"x":{"field":"mid","type":"quantitative","axis":{"title":null,"values":[2,92],"labelExpr":"datum.value < 50 ? ['0%','TSS'] : ['100%','TTS']","domain":false,"ticks":false,"grid":false,"labelFontSize":12,"labelColor":"#111","labelPadding":5,"labelLineHeight":16,"labelFlush":false,"labelOverlap":false}},
"y":{"field":"hi","type":"quantitative","axis":{"title":null,"values":[0,5,10,15,20,25,30],"domain":false,"ticks":false,"gridColor":"#e6e6e6","labelFontSize":10.5,"labelPadding":4,"labelOverlap":false}}}},
{"mark":{"type":"rule","clip":false,"color":"#111","strokeWidth":1.2},"encoding":{
"x":{"datum":13,"axis":{"title":null,"values":[2,92],"labelExpr":"datum.value < 50 ? ['0%','TSS'] : ['100%','TTS']","domain":false,"ticks":false,"grid":false,"labelFontSize":12,"labelColor":"#111","labelPadding":5,"labelLineHeight":16,"labelFlush":false,"labelOverlap":false}},"x2":{"datum":80},
"y":{"datum":-4.3,"axis":{"title":null,"values":[0,5,10,15,20,25,30],"domain":false,"ticks":false,"gridColor":"#e6e6e6","labelFontSize":10.5,"labelPadding":4,"labelOverlap":false}}}}
]}
]
},
{
"data":{"name":"hist"},
"title":{"text":["","C"],"lineHeight":5,"anchor":"start","frame":"bounds","fontSize":16,"fontWeight":"bold","offset":1,"dx":-9},
"bounds":"flush","spacing":25,
"hconcat":[
{"width":155,"height":92,"title":{"text":"Ds selected","offset":10},
"transform":[{"filter":"datum.row == 'C' && datum.panel == 'Ds selected'"}],
"layer":[
{"mark":{"type":"bar","color":"#6791d2","binSpacing":0},"encoding":{
"x":{"field":"start","type":"quantitative","bin":"binned","scale":{"domain":[-1000,1000],"nice":false,"zero":false},"axis":{"title":null,"values":[-945,0,945],"labelExpr":"datum.value < 0 ? '-1kb' : (datum.value > 0 ? '+1kb' : 'TSS')","domainColor":"#222","tickColor":"#222","tickSize":4,"offset":11,"grid":false,"labelFontSize":10.5,"labelColor":"#111","labelPadding":1,"labelFlush":false,"labelOverlap":false}},
"x2":{"field":"end"},
"y":{"field":"obs","type":"quantitative","scale":{"domain":[0,25],"nice":false},"axis":{"title":"Percent of inserts","values":[0,5,10,15,20,25],"labelExpr":"indexof([0,10,25], datum.value) >= 0 ? datum.label : ''","domain":false,"ticks":false,"gridColor":"#e6e6e6","labelFontSize":10.5,"labelPadding":4,"labelOverlap":false,"titleFontSize":12,"titlePadding":13}}}},
{"mark":{"type":"bar","filled":false,"color":"#c62f48","strokeWidth":1.2,"binSpacing":0},"encoding":{
"x":{"field":"start","type":"quantitative","bin":"binned","axis":{"title":null,"values":[-945,0,945],"labelExpr":"datum.value < 0 ? '-1kb' : (datum.value > 0 ? '+1kb' : 'TSS')","domainColor":"#222","tickColor":"#222","tickSize":4,"offset":11,"grid":false,"labelFontSize":10.5,"labelColor":"#111","labelPadding":1,"labelFlush":false,"labelOverlap":false}},
"x2":{"field":"end"},
"y":{"field":"exp","type":"quantitative","axis":{"title":"Percent of inserts","values":[0,5,10,15,20,25],"labelExpr":"indexof([0,10,25], datum.value) >= 0 ? datum.label : ''","domain":false,"ticks":false,"gridColor":"#e6e6e6","labelFontSize":10.5,"labelPadding":4,"labelOverlap":false,"titleFontSize":12,"titlePadding":13}}}},
{"mark":{"type":"rule","color":"#333"},"encoding":{
"x":{"field":"mid","type":"quantitative","axis":{"title":null,"values":[-945,0,945],"labelExpr":"datum.value < 0 ? '-1kb' : (datum.value > 0 ? '+1kb' : 'TSS')","domainColor":"#222","tickColor":"#222","tickSize":4,"offset":11,"grid":false,"labelFontSize":10.5,"labelColor":"#111","labelPadding":1,"labelFlush":false,"labelOverlap":false}},
"y":{"field":"lo","type":"quantitative","axis":{"title":"Percent of inserts","values":[0,5,10,15,20,25],"labelExpr":"indexof([0,10,25], datum.value) >= 0 ? datum.label : ''","domain":false,"ticks":false,"gridColor":"#e6e6e6","labelFontSize":10.5,"labelPadding":4,"labelOverlap":false,"titleFontSize":12,"titlePadding":13}},"y2":{"field":"hi"}}},
{"mark":{"type":"tick","orient":"horizontal","size":4,"thickness":1,"color":"#333"},"encoding":{
"x":{"field":"mid","type":"quantitative","axis":{"title":null,"values":[-945,0,945],"labelExpr":"datum.value < 0 ? '-1kb' : (datum.value > 0 ? '+1kb' : 'TSS')","domainColor":"#222","tickColor":"#222","tickSize":4,"offset":11,"grid":false,"labelFontSize":10.5,"labelColor":"#111","labelPadding":1,"labelFlush":false,"labelOverlap":false}},
"y":{"field":"lo","type":"quantitative","axis":{"title":"Percent of inserts","values":[0,5,10,15,20,25],"labelExpr":"indexof([0,10,25], datum.value) >= 0 ? datum.label : ''","domain":false,"ticks":false,"gridColor":"#e6e6e6","labelFontSize":10.5,"labelPadding":4,"labelOverlap":false,"titleFontSize":12,"titlePadding":13}}}},
{"mark":{"type":"tick","orient":"horizontal","size":4,"thickness":1,"color":"#333"},"encoding":{
"x":{"field":"mid","type":"quantitative","axis":{"title":null,"values":[-945,0,945],"labelExpr":"datum.value < 0 ? '-1kb' : (datum.value > 0 ? '+1kb' : 'TSS')","domainColor":"#222","tickColor":"#222","tickSize":4,"offset":11,"grid":false,"labelFontSize":10.5,"labelColor":"#111","labelPadding":1,"labelFlush":false,"labelOverlap":false}},
"y":{"field":"hi","type":"quantitative","axis":{"title":"Percent of inserts","values":[0,5,10,15,20,25],"labelExpr":"indexof([0,10,25], datum.value) >= 0 ? datum.label : ''","domain":false,"ticks":false,"gridColor":"#e6e6e6","labelFontSize":10.5,"labelPadding":4,"labelOverlap":false,"titleFontSize":12,"titlePadding":13}}}}
]},
{"width":155,"height":92,"title":{"text":"Ds unselected","offset":10},
"transform":[{"filter":"datum.row == 'C' && datum.panel == 'Ds unselected'"}],
"layer":[
{"mark":{"type":"bar","color":"#6791d2","binSpacing":0},"encoding":{
"x":{"field":"start","type":"quantitative","bin":"binned","scale":{"domain":[-1000,1000],"nice":false,"zero":false},"axis":{"title":null,"values":[-945,0,945],"labelExpr":"datum.value < 0 ? '-1kb' : (datum.value > 0 ? '+1kb' : 'TSS')","domainColor":"#222","tickColor":"#222","tickSize":4,"offset":11,"grid":false,"labelFontSize":10.5,"labelColor":"#111","labelPadding":1,"labelFlush":false,"labelOverlap":false}},
"x2":{"field":"end"},
"y":{"field":"obs","type":"quantitative","scale":{"domain":[0,25],"nice":false},"axis":{"title":null,"values":[0,5,10,15,20,25],"domain":false,"ticks":false,"gridColor":"#e6e6e6","labelFontSize":10.5,"labelPadding":4,"labelOverlap":false}}}},
{"mark":{"type":"bar","filled":false,"color":"#c62f48","strokeWidth":1.2,"binSpacing":0},"encoding":{
"x":{"field":"start","type":"quantitative","bin":"binned","axis":{"title":null,"values":[-945,0,945],"labelExpr":"datum.value < 0 ? '-1kb' : (datum.value > 0 ? '+1kb' : 'TSS')","domainColor":"#222","tickColor":"#222","tickSize":4,"offset":11,"grid":false,"labelFontSize":10.5,"labelColor":"#111","labelPadding":1,"labelFlush":false,"labelOverlap":false}},
"x2":{"field":"end"},
"y":{"field":"exp","type":"quantitative","axis":{"title":null,"values":[0,5,10,15,20,25],"domain":false,"ticks":false,"gridColor":"#e6e6e6","labelFontSize":10.5,"labelPadding":4,"labelOverlap":false}}}},
{"mark":{"type":"rule","color":"#333"},"encoding":{
"x":{"field":"mid","type":"quantitative","axis":{"title":null,"values":[-945,0,945],"labelExpr":"datum.value < 0 ? '-1kb' : (datum.value > 0 ? '+1kb' : 'TSS')","domainColor":"#222","tickColor":"#222","tickSize":4,"offset":11,"grid":false,"labelFontSize":10.5,"labelColor":"#111","labelPadding":1,"labelFlush":false,"labelOverlap":false}},
"y":{"field":"lo","type":"quantitative","axis":{"title":null,"values":[0,5,10,15,20,25],"domain":false,"ticks":false,"gridColor":"#e6e6e6","labelFontSize":10.5,"labelPadding":4,"labelOverlap":false}},"y2":{"field":"hi"}}},
{"mark":{"type":"tick","orient":"horizontal","size":4,"thickness":1,"color":"#333"},"encoding":{
"x":{"field":"mid","type":"quantitative","axis":{"title":null,"values":[-945,0,945],"labelExpr":"datum.value < 0 ? '-1kb' : (datum.value > 0 ? '+1kb' : 'TSS')","domainColor":"#222","tickColor":"#222","tickSize":4,"offset":11,"grid":false,"labelFontSize":10.5,"labelColor":"#111","labelPadding":1,"labelFlush":false,"labelOverlap":false}},
"y":{"field":"lo","type":"quantitative","axis":{"title":null,"values":[0,5,10,15,20,25],"domain":false,"ticks":false,"gridColor":"#e6e6e6","labelFontSize":10.5,"labelPadding":4,"labelOverlap":false}}}},
{"mark":{"type":"tick","orient":"horizontal","size":4,"thickness":1,"color":"#333"},"encoding":{
"x":{"field":"mid","type":"quantitative","axis":{"title":null,"values":[-945,0,945],"labelExpr":"datum.value < 0 ? '-1kb' : (datum.value > 0 ? '+1kb' : 'TSS')","domainColor":"#222","tickColor":"#222","tickSize":4,"offset":11,"grid":false,"labelFontSize":10.5,"labelColor":"#111","labelPadding":1,"labelFlush":false,"labelOverlap":false}},
"y":{"field":"hi","type":"quantitative","axis":{"title":null,"values":[0,5,10,15,20,25],"domain":false,"ticks":false,"gridColor":"#e6e6e6","labelFontSize":10.5,"labelPadding":4,"labelOverlap":false}}}}
]},
{"width":155,"height":92,"title":{"text":"Tol2","offset":10},
"transform":[{"filter":"datum.row == 'C' && datum.panel == 'Tol2'"}],
"layer":[
{"mark":{"type":"bar","color":"#6791d2","binSpacing":0},"encoding":{
"x":{"field":"start","type":"quantitative","bin":"binned","scale":{"domain":[-1000,1000],"nice":false,"zero":false},"axis":{"title":null,"values":[-945,0,945],"labelExpr":"datum.value < 0 ? '-1kb' : (datum.value > 0 ? '+1kb' : 'TSS')","domainColor":"#222","tickColor":"#222","tickSize":4,"offset":11,"grid":false,"labelFontSize":10.5,"labelColor":"#111","labelPadding":1,"labelFlush":false,"labelOverlap":false}},
"x2":{"field":"end"},
"y":{"field":"obs","type":"quantitative","scale":{"domain":[0,25],"nice":false},"axis":{"title":null,"values":[0,5,10,15,20,25],"labelExpr":"indexof([0,10,25], datum.value) >= 0 ? datum.label : ''","domain":false,"ticks":false,"gridColor":"#e6e6e6","labelFontSize":10.5,"labelPadding":4,"labelOverlap":false}}}},
{"mark":{"type":"bar","filled":false,"color":"#c62f48","strokeWidth":1.2,"binSpacing":0},"encoding":{
"x":{"field":"start","type":"quantitative","bin":"binned","axis":{"title":null,"values":[-945,0,945],"labelExpr":"datum.value < 0 ? '-1kb' : (datum.value > 0 ? '+1kb' : 'TSS')","domainColor":"#222","tickColor":"#222","tickSize":4,"offset":11,"grid":false,"labelFontSize":10.5,"labelColor":"#111","labelPadding":1,"labelFlush":false,"labelOverlap":false}},
"x2":{"field":"end"},
"y":{"field":"exp","type":"quantitative","axis":{"title":null,"values":[0,5,10,15,20,25],"labelExpr":"indexof([0,10,25], datum.value) >= 0 ? datum.label : ''","domain":false,"ticks":false,"gridColor":"#e6e6e6","labelFontSize":10.5,"labelPadding":4,"labelOverlap":false}}}},
{"mark":{"type":"rule","color":"#333"},"encoding":{
"x":{"field":"mid","type":"quantitative","axis":{"title":null,"values":[-945,0,945],"labelExpr":"datum.value < 0 ? '-1kb' : (datum.value > 0 ? '+1kb' : 'TSS')","domainColor":"#222","tickColor":"#222","tickSize":4,"offset":11,"grid":false,"labelFontSize":10.5,"labelColor":"#111","labelPadding":1,"labelFlush":false,"labelOverlap":false}},
"y":{"field":"lo","type":"quantitative","axis":{"title":null,"values":[0,5,10,15,20,25],"labelExpr":"indexof([0,10,25], datum.value) >= 0 ? datum.label : ''","domain":false,"ticks":false,"gridColor":"#e6e6e6","labelFontSize":10.5,"labelPadding":4,"labelOverlap":false}},"y2":{"field":"hi"}}},
{"mark":{"type":"tick","orient":"horizontal","size":4,"thickness":1,"color":"#333"},"encoding":{
"x":{"field":"mid","type":"quantitative","axis":{"title":null,"values":[-945,0,945],"labelExpr":"datum.value < 0 ? '-1kb' : (datum.value > 0 ? '+1kb' : 'TSS')","domainColor":"#222","tickColor":"#222","tickSize":4,"offset":11,"grid":false,"labelFontSize":10.5,"labelColor":"#111","labelPadding":1,"labelFlush":false,"labelOverlap":false}},
"y":{"field":"lo","type":"quantitative","axis":{"title":null,"values":[0,5,10,15,20,25],"labelExpr":"indexof([0,10,25], datum.value) >= 0 ? datum.label : ''","domain":false,"ticks":false,"gridColor":"#e6e6e6","labelFontSize":10.5,"labelPadding":4,"labelOverlap":false}}}},
{"mark":{"type":"tick","orient":"horizontal","size":4,"thickness":1,"color":"#333"},"encoding":{
"x":{"field":"mid","type":"quantitative","axis":{"title":null,"values":[-945,0,945],"labelExpr":"datum.value < 0 ? '-1kb' : (datum.value > 0 ? '+1kb' : 'TSS')","domainColor":"#222","tickColor":"#222","tickSize":4,"offset":11,"grid":false,"labelFontSize":10.5,"labelColor":"#111","labelPadding":1,"labelFlush":false,"labelOverlap":false}},
"y":{"field":"hi","type":"quantitative","axis":{"title":null,"values":[0,5,10,15,20,25],"labelExpr":"indexof([0,10,25], datum.value) >= 0 ? datum.label : ''","domain":false,"ticks":false,"gridColor":"#e6e6e6","labelFontSize":10.5,"labelPadding":4,"labelOverlap":false}}}}
]},
{"width":155,"height":92,"title":{"text":"MMLV","offset":10},
"transform":[{"filter":"datum.row == 'C' && datum.panel == 'MMLV'"}],
"layer":[
{"mark":{"type":"bar","color":"#6791d2","binSpacing":0},"encoding":{
"x":{"field":"start","type":"quantitative","bin":"binned","scale":{"domain":[-1000,1000],"nice":false,"zero":false},"axis":{"title":null,"values":[-945,0,945],"labelExpr":"datum.value < 0 ? '-1kb' : (datum.value > 0 ? '+1kb' : 'TSS')","domainColor":"#222","tickColor":"#222","tickSize":4,"offset":11,"grid":false,"labelFontSize":10.5,"labelColor":"#111","labelPadding":1,"labelFlush":false,"labelOverlap":false}},
"x2":{"field":"end"},
"y":{"field":"obs","type":"quantitative","scale":{"domain":[0,25],"nice":false},"axis":{"title":null,"values":[0,5,10,15,20,25],"labelExpr":"indexof([0,10,25], datum.value) >= 0 ? datum.label : ''","domain":false,"ticks":false,"gridColor":"#e6e6e6","labelFontSize":10.5,"labelPadding":4,"labelOverlap":false}}}},
{"mark":{"type":"bar","filled":false,"color":"#c62f48","strokeWidth":1.2,"binSpacing":0},"encoding":{
"x":{"field":"start","type":"quantitative","bin":"binned","axis":{"title":null,"values":[-945,0,945],"labelExpr":"datum.value < 0 ? '-1kb' : (datum.value > 0 ? '+1kb' : 'TSS')","domainColor":"#222","tickColor":"#222","tickSize":4,"offset":11,"grid":false,"labelFontSize":10.5,"labelColor":"#111","labelPadding":1,"labelFlush":false,"labelOverlap":false}},
"x2":{"field":"end"},
"y":{"field":"exp","type":"quantitative","axis":{"title":null,"values":[0,5,10,15,20,25],"labelExpr":"indexof([0,10,25], datum.value) >= 0 ? datum.label : ''","domain":false,"ticks":false,"gridColor":"#e6e6e6","labelFontSize":10.5,"labelPadding":4,"labelOverlap":false}}}},
{"mark":{"type":"rule","color":"#333"},"encoding":{
"x":{"field":"mid","type":"quantitative","axis":{"title":null,"values":[-945,0,945],"labelExpr":"datum.value < 0 ? '-1kb' : (datum.value > 0 ? '+1kb' : 'TSS')","domainColor":"#222","tickColor":"#222","tickSize":4,"offset":11,"grid":false,"labelFontSize":10.5,"labelColor":"#111","labelPadding":1,"labelFlush":false,"labelOverlap":false}},
"y":{"field":"lo","type":"quantitative","axis":{"title":null,"values":[0,5,10,15,20,25],"labelExpr":"indexof([0,10,25], datum.value) >= 0 ? datum.label : ''","domain":false,"ticks":false,"gridColor":"#e6e6e6","labelFontSize":10.5,"labelPadding":4,"labelOverlap":false}},"y2":{"field":"hi"}}},
{"mark":{"type":"tick","orient":"horizontal","size":4,"thickness":1,"color":"#333"},"encoding":{
"x":{"field":"mid","type":"quantitative","axis":{"title":null,"values":[-945,0,945],"labelExpr":"datum.value < 0 ? '-1kb' : (datum.value > 0 ? '+1kb' : 'TSS')","domainColor":"#222","tickColor":"#222","tickSize":4,"offset":11,"grid":false,"labelFontSize":10.5,"labelColor":"#111","labelPadding":1,"labelFlush":false,"labelOverlap":false}},
"y":{"field":"lo","type":"quantitative","axis":{"title":null,"values":[0,5,10,15,20,25],"labelExpr":"indexof([0,10,25], datum.value) >= 0 ? datum.label : ''","domain":false,"ticks":false,"gridColor":"#e6e6e6","labelFontSize":10.5,"labelPadding":4,"labelOverlap":false}}}},
{"mark":{"type":"tick","orient":"horizontal","size":4,"thickness":1,"color":"#333"},"encoding":{
"x":{"field":"mid","type":"quantitative","axis":{"title":null,"values":[-945,0,945],"labelExpr":"datum.value < 0 ? '-1kb' : (datum.value > 0 ? '+1kb' : 'TSS')","domainColor":"#222","tickColor":"#222","tickSize":4,"offset":11,"grid":false,"labelFontSize":10.5,"labelColor":"#111","labelPadding":1,"labelFlush":false,"labelOverlap":false}},
"y":{"field":"hi","type":"quantitative","axis":{"title":null,"values":[0,5,10,15,20,25],"labelExpr":"indexof([0,10,25], datum.value) >= 0 ? datum.label : ''","domain":false,"ticks":false,"gridColor":"#e6e6e6","labelFontSize":10.5,"labelPadding":4,"labelOverlap":false}}}}
]}
]
},
{
"data":{"name":"hist"},
"title":{"text":["","D"],"lineHeight":18,"anchor":"start","frame":"bounds","fontSize":16,"fontWeight":"bold","offset":-3,"dx":-9},
"bounds":"flush","spacing":25,
"hconcat":[
{"width":155,"height":90,"title":{"text":"Ds selected","offset":5},
"transform":[{"filter":"datum.row == 'D' && datum.panel == 'Ds selected'"}],
"layer":[
{"mark":{"type":"bar","color":"#6791d2","binSpacing":0},"encoding":{
"x":{"field":"start","type":"quantitative","bin":"binned","scale":{"domain":[-1000,1000],"nice":false,"zero":false},"axis":{"title":null,"values":[-945,0,945],"labelExpr":"datum.value < 0 ? '-1kb' : (datum.value > 0 ? '+1kb' : 'TTS')","domainColor":"#222","tickColor":"#222","tickSize":4,"offset":11,"grid":false,"labelFontSize":10.5,"labelColor":"#111","labelPadding":1,"labelFlush":false,"labelOverlap":false}},
"x2":{"field":"end"},
"y":{"field":"obs","type":"quantitative","scale":{"domain":[0,25],"nice":false},"axis":{"title":"Percent of inserts","values":[0,5,10,15,20,25],"domain":false,"ticks":false,"gridColor":"#e6e6e6","labelFontSize":10.5,"labelPadding":4,"labelOverlap":false,"titleFontSize":12,"titlePadding":13}}}},
{"mark":{"type":"bar","filled":false,"color":"#c62f48","strokeWidth":1.2,"binSpacing":0},"encoding":{
"x":{"field":"start","type":"quantitative","bin":"binned","axis":{"title":null,"values":[-945,0,945],"labelExpr":"datum.value < 0 ? '-1kb' : (datum.value > 0 ? '+1kb' : 'TTS')","domainColor":"#222","tickColor":"#222","tickSize":4,"offset":11,"grid":false,"labelFontSize":10.5,"labelColor":"#111","labelPadding":1,"labelFlush":false,"labelOverlap":false}},
"x2":{"field":"end"},
"y":{"field":"exp","type":"quantitative","axis":{"title":"Percent of inserts","values":[0,5,10,15,20,25],"domain":false,"ticks":false,"gridColor":"#e6e6e6","labelFontSize":10.5,"labelPadding":4,"labelOverlap":false,"titleFontSize":12,"titlePadding":13}}}},
{"mark":{"type":"rule","color":"#333"},"encoding":{
"x":{"field":"mid","type":"quantitative","axis":{"title":null,"values":[-945,0,945],"labelExpr":"datum.value < 0 ? '-1kb' : (datum.value > 0 ? '+1kb' : 'TTS')","domainColor":"#222","tickColor":"#222","tickSize":4,"offset":11,"grid":false,"labelFontSize":10.5,"labelColor":"#111","labelPadding":1,"labelFlush":false,"labelOverlap":false}},
"y":{"field":"lo","type":"quantitative","axis":{"title":"Percent of inserts","values":[0,5,10,15,20,25],"domain":false,"ticks":false,"gridColor":"#e6e6e6","labelFontSize":10.5,"labelPadding":4,"labelOverlap":false,"titleFontSize":12,"titlePadding":13}},"y2":{"field":"hi"}}},
{"mark":{"type":"tick","orient":"horizontal","size":4,"thickness":1,"color":"#333"},"encoding":{
"x":{"field":"mid","type":"quantitative","axis":{"title":null,"values":[-945,0,945],"labelExpr":"datum.value < 0 ? '-1kb' : (datum.value > 0 ? '+1kb' : 'TTS')","domainColor":"#222","tickColor":"#222","tickSize":4,"offset":11,"grid":false,"labelFontSize":10.5,"labelColor":"#111","labelPadding":1,"labelFlush":false,"labelOverlap":false}},
"y":{"field":"lo","type":"quantitative","axis":{"title":"Percent of inserts","values":[0,5,10,15,20,25],"domain":false,"ticks":false,"gridColor":"#e6e6e6","labelFontSize":10.5,"labelPadding":4,"labelOverlap":false,"titleFontSize":12,"titlePadding":13}}}},
{"mark":{"type":"tick","orient":"horizontal","size":4,"thickness":1,"color":"#333"},"encoding":{
"x":{"field":"mid","type":"quantitative","axis":{"title":null,"values":[-945,0,945],"labelExpr":"datum.value < 0 ? '-1kb' : (datum.value > 0 ? '+1kb' : 'TTS')","domainColor":"#222","tickColor":"#222","tickSize":4,"offset":11,"grid":false,"labelFontSize":10.5,"labelColor":"#111","labelPadding":1,"labelFlush":false,"labelOverlap":false}},
"y":{"field":"hi","type":"quantitative","axis":{"title":"Percent of inserts","values":[0,5,10,15,20,25],"domain":false,"ticks":false,"gridColor":"#e6e6e6","labelFontSize":10.5,"labelPadding":4,"labelOverlap":false,"titleFontSize":12,"titlePadding":13}}}}
]},
{"width":155,"height":90,"title":{"text":"Ds unselected","offset":5},
"transform":[{"filter":"datum.row == 'D' && datum.panel == 'Ds unselected'"}],
"layer":[
{"mark":{"type":"bar","color":"#6791d2","binSpacing":0},"encoding":{
"x":{"field":"start","type":"quantitative","bin":"binned","scale":{"domain":[-1000,1000],"nice":false,"zero":false},"axis":{"title":null,"values":[-945,0,945],"labelExpr":"datum.value < 0 ? '-1kb' : (datum.value > 0 ? '+1kb' : 'TTS')","domainColor":"#222","tickColor":"#222","tickSize":4,"offset":11,"grid":false,"labelFontSize":10.5,"labelColor":"#111","labelPadding":1,"labelFlush":false,"labelOverlap":false}},
"x2":{"field":"end"},
"y":{"field":"obs","type":"quantitative","scale":{"domain":[0,25],"nice":false},"axis":{"title":null,"values":[0,5,10,15,20,25],"labelExpr":"indexof([0,10,25], datum.value) >= 0 ? datum.label : ''","domain":false,"ticks":false,"gridColor":"#e6e6e6","labelFontSize":10.5,"labelPadding":4,"labelOverlap":false}}}},
{"mark":{"type":"bar","filled":false,"color":"#c62f48","strokeWidth":1.2,"binSpacing":0},"encoding":{
"x":{"field":"start","type":"quantitative","bin":"binned","axis":{"title":null,"values":[-945,0,945],"labelExpr":"datum.value < 0 ? '-1kb' : (datum.value > 0 ? '+1kb' : 'TTS')","domainColor":"#222","tickColor":"#222","tickSize":4,"offset":11,"grid":false,"labelFontSize":10.5,"labelColor":"#111","labelPadding":1,"labelFlush":false,"labelOverlap":false}},
"x2":{"field":"end"},
"y":{"field":"exp","type":"quantitative","axis":{"title":null,"values":[0,5,10,15,20,25],"labelExpr":"indexof([0,10,25], datum.value) >= 0 ? datum.label : ''","domain":false,"ticks":false,"gridColor":"#e6e6e6","labelFontSize":10.5,"labelPadding":4,"labelOverlap":false}}}},
{"mark":{"type":"rule","color":"#333"},"encoding":{
"x":{"field":"mid","type":"quantitative","axis":{"title":null,"values":[-945,0,945],"labelExpr":"datum.value < 0 ? '-1kb' : (datum.value > 0 ? '+1kb' : 'TTS')","domainColor":"#222","tickColor":"#222","tickSize":4,"offset":11,"grid":false,"labelFontSize":10.5,"labelColor":"#111","labelPadding":1,"labelFlush":false,"labelOverlap":false}},
"y":{"field":"lo","type":"quantitative","axis":{"title":null,"values":[0,5,10,15,20,25],"labelExpr":"indexof([0,10,25], datum.value) >= 0 ? datum.label : ''","domain":false,"ticks":false,"gridColor":"#e6e6e6","labelFontSize":10.5,"labelPadding":4,"labelOverlap":false}},"y2":{"field":"hi"}}},
{"mark":{"type":"tick","orient":"horizontal","size":4,"thickness":1,"color":"#333"},"encoding":{
"x":{"field":"mid","type":"quantitative","axis":{"title":null,"values":[-945,0,945],"labelExpr":"datum.value < 0 ? '-1kb' : (datum.value > 0 ? '+1kb' : 'TTS')","domainColor":"#222","tickColor":"#222","tickSize":4,"offset":11,"grid":false,"labelFontSize":10.5,"labelColor":"#111","labelPadding":1,"labelFlush":false,"labelOverlap":false}},
"y":{"field":"lo","type":"quantitative","axis":{"title":null,"values":[0,5,10,15,20,25],"labelExpr":"indexof([0,10,25], datum.value) >= 0 ? datum.label : ''","domain":false,"ticks":false,"gridColor":"#e6e6e6","labelFontSize":10.5,"labelPadding":4,"labelOverlap":false}}}},
{"mark":{"type":"tick","orient":"horizontal","size":4,"thickness":1,"color":"#333"},"encoding":{
"x":{"field":"mid","type":"quantitative","axis":{"title":null,"values":[-945,0,945],"labelExpr":"datum.value < 0 ? '-1kb' : (datum.value > 0 ? '+1kb' : 'TTS')","domainColor":"#222","tickColor":"#222","tickSize":4,"offset":11,"grid":false,"labelFontSize":10.5,"labelColor":"#111","labelPadding":1,"labelFlush":false,"labelOverlap":false}},
"y":{"field":"hi","type":"quantitative","axis":{"title":null,"values":[0,5,10,15,20,25],"labelExpr":"indexof([0,10,25], datum.value) >= 0 ? datum.label : ''","domain":false,"ticks":false,"gridColor":"#e6e6e6","labelFontSize":10.5,"labelPadding":4,"labelOverlap":false}}}}
]},
{"width":155,"height":90,"title":{"text":"Tol2","offset":5},
"transform":[{"filter":"datum.row == 'D' && datum.panel == 'Tol2'"}],
"layer":[
{"mark":{"type":"bar","color":"#6791d2","binSpacing":0},"encoding":{
"x":{"field":"start","type":"quantitative","bin":"binned","scale":{"domain":[-1000,1000],"nice":false,"zero":false},"axis":{"title":null,"values":[-945,0,945],"labelExpr":"datum.value < 0 ? '-1kb' : (datum.value > 0 ? '+1kb' : 'TTS')","domainColor":"#222","tickColor":"#222","tickSize":4,"offset":11,"grid":false,"labelFontSize":10.5,"labelColor":"#111","labelPadding":1,"labelFlush":false,"labelOverlap":false}},
"x2":{"field":"end"},
"y":{"field":"obs","type":"quantitative","scale":{"domain":[0,25],"nice":false},"axis":{"title":null,"values":[0,5,10,15,20,25],"labelExpr":"indexof([0,10,25], datum.value) >= 0 ? datum.label : ''","domain":false,"ticks":false,"gridColor":"#e6e6e6","labelFontSize":10.5,"labelPadding":4,"labelOverlap":false}}}},
{"mark":{"type":"bar","filled":false,"color":"#c62f48","strokeWidth":1.2,"binSpacing":0},"encoding":{
"x":{"field":"start","type":"quantitative","bin":"binned","axis":{"title":null,"values":[-945,0,945],"labelExpr":"datum.value < 0 ? '-1kb' : (datum.value > 0 ? '+1kb' : 'TTS')","domainColor":"#222","tickColor":"#222","tickSize":4,"offset":11,"grid":false,"labelFontSize":10.5,"labelColor":"#111","labelPadding":1,"labelFlush":false,"labelOverlap":false}},
"x2":{"field":"end"},
"y":{"field":"exp","type":"quantitative","axis":{"title":null,"values":[0,5,10,15,20,25],"labelExpr":"indexof([0,10,25], datum.value) >= 0 ? datum.label : ''","domain":false,"ticks":false,"gridColor":"#e6e6e6","labelFontSize":10.5,"labelPadding":4,"labelOverlap":false}}}},
{"mark":{"type":"rule","color":"#333"},"encoding":{
"x":{"field":"mid","type":"quantitative","axis":{"title":null,"values":[-945,0,945],"labelExpr":"datum.value < 0 ? '-1kb' : (datum.value > 0 ? '+1kb' : 'TTS')","domainColor":"#222","tickColor":"#222","tickSize":4,"offset":11,"grid":false,"labelFontSize":10.5,"labelColor":"#111","labelPadding":1,"labelFlush":false,"labelOverlap":false}},
"y":{"field":"lo","type":"quantitative","axis":{"title":null,"values":[0,5,10,15,20,25],"labelExpr":"indexof([0,10,25], datum.value) >= 0 ? datum.label : ''","domain":false,"ticks":false,"gridColor":"#e6e6e6","labelFontSize":10.5,"labelPadding":4,"labelOverlap":false}},"y2":{"field":"hi"}}},
{"mark":{"type":"tick","orient":"horizontal","size":4,"thickness":1,"color":"#333"},"encoding":{
"x":{"field":"mid","type":"quantitative","axis":{"title":null,"values":[-945,0,945],"labelExpr":"datum.value < 0 ? '-1kb' : (datum.value > 0 ? '+1kb' : 'TTS')","domainColor":"#222","tickColor":"#222","tickSize":4,"offset":11,"grid":false,"labelFontSize":10.5,"labelColor":"#111","labelPadding":1,"labelFlush":false,"labelOverlap":false}},
"y":{"field":"lo","type":"quantitative","axis":{"title":null,"values":[0,5,10,15,20,25],"labelExpr":"indexof([0,10,25], datum.value) >= 0 ? datum.label : ''","domain":false,"ticks":false,"gridColor":"#e6e6e6","labelFontSize":10.5,"labelPadding":4,"labelOverlap":false}}}},
{"mark":{"type":"tick","orient":"horizontal","size":4,"thickness":1,"color":"#333"},"encoding":{
"x":{"field":"mid","type":"quantitative","axis":{"title":null,"values":[-945,0,945],"labelExpr":"datum.value < 0 ? '-1kb' : (datum.value > 0 ? '+1kb' : 'TTS')","domainColor":"#222","tickColor":"#222","tickSize":4,"offset":11,"grid":false,"labelFontSize":10.5,"labelColor":"#111","labelPadding":1,"labelFlush":false,"labelOverlap":false}},
"y":{"field":"hi","type":"quantitative","axis":{"title":null,"values":[0,5,10,15,20,25],"labelExpr":"indexof([0,10,25], datum.value) >= 0 ? datum.label : ''","domain":false,"ticks":false,"gridColor":"#e6e6e6","labelFontSize":10.5,"labelPadding":4,"labelOverlap":false}}}}
]},
{"width":155,"height":90,"title":{"text":"MMLV","offset":5},
"transform":[{"filter":"datum.row == 'D' && datum.panel == 'MMLV'"}],
"layer":[
{"mark":{"type":"bar","color":"#6791d2","binSpacing":0},"encoding":{
"x":{"field":"start","type":"quantitative","bin":"binned","scale":{"domain":[-1000,1000],"nice":false,"zero":false},"axis":{"title":null,"values":[-945,0,945],"labelExpr":"datum.value < 0 ? '-1kb' : (datum.value > 0 ? '+1kb' : 'TTS')","domainColor":"#222","tickColor":"#222","tickSize":4,"offset":11,"grid":false,"labelFontSize":10.5,"labelColor":"#111","labelPadding":1,"labelFlush":false,"labelOverlap":false}},
"x2":{"field":"end"},
"y":{"field":"obs","type":"quantitative","scale":{"domain":[0,25],"nice":false},"axis":{"title":null,"values":[0,5,10,15,20,25],"labelExpr":"indexof([0,10,25], datum.value) >= 0 ? datum.label : ''","domain":false,"ticks":false,"gridColor":"#e6e6e6","labelFontSize":10.5,"labelPadding":4,"labelOverlap":false}}}},
{"mark":{"type":"bar","filled":false,"color":"#c62f48","strokeWidth":1.2,"binSpacing":0},"encoding":{
"x":{"field":"start","type":"quantitative","bin":"binned","axis":{"title":null,"values":[-945,0,945],"labelExpr":"datum.value < 0 ? '-1kb' : (datum.value > 0 ? '+1kb' : 'TTS')","domainColor":"#222","tickColor":"#222","tickSize":4,"offset":11,"grid":false,"labelFontSize":10.5,"labelColor":"#111","labelPadding":1,"labelFlush":false,"labelOverlap":false}},
"x2":{"field":"end"},
"y":{"field":"exp","type":"quantitative","axis":{"title":null,"values":[0,5,10,15,20,25],"labelExpr":"indexof([0,10,25], datum.value) >= 0 ? datum.label : ''","domain":false,"ticks":false,"gridColor":"#e6e6e6","labelFontSize":10.5,"labelPadding":4,"labelOverlap":false}}}},
{"mark":{"type":"rule","color":"#333"},"encoding":{
"x":{"field":"mid","type":"quantitative","axis":{"title":null,"values":[-945,0,945],"labelExpr":"datum.value < 0 ? '-1kb' : (datum.value > 0 ? '+1kb' : 'TTS')","domainColor":"#222","tickColor":"#222","tickSize":4,"offset":11,"grid":false,"labelFontSize":10.5,"labelColor":"#111","labelPadding":1,"labelFlush":false,"labelOverlap":false}},
"y":{"field":"lo","type":"quantitative","axis":{"title":null,"values":[0,5,10,15,20,25],"labelExpr":"indexof([0,10,25], datum.value) >= 0 ? datum.label : ''","domain":false,"ticks":false,"gridColor":"#e6e6e6","labelFontSize":10.5,"labelPadding":4,"labelOverlap":false}},"y2":{"field":"hi"}}},
{"mark":{"type":"tick","orient":"horizontal","size":4,"thickness":1,"color":"#333"},"encoding":{
"x":{"field":"mid","type":"quantitative","axis":{"title":null,"values":[-945,0,945],"labelExpr":"datum.value < 0 ? '-1kb' : (datum.value > 0 ? '+1kb' : 'TTS')","domainColor":"#222","tickColor":"#222","tickSize":4,"offset":11,"grid":false,"labelFontSize":10.5,"labelColor":"#111","labelPadding":1,"labelFlush":false,"labelOverlap":false}},
"y":{"field":"lo","type":"quantitative","axis":{"title":null,"values":[0,5,10,15,20,25],"labelExpr":"indexof([0,10,25], datum.value) >= 0 ? datum.label : ''","domain":false,"ticks":false,"gridColor":"#e6e6e6","labelFontSize":10.5,"labelPadding":4,"labelOverlap":false}}}},
{"mark":{"type":"tick","orient":"horizontal","size":4,"thickness":1,"color":"#333"},"encoding":{
"x":{"field":"mid","type":"quantitative","axis":{"title":null,"values":[-945,0,945],"labelExpr":"datum.value < 0 ? '-1kb' : (datum.value > 0 ? '+1kb' : 'TTS')","domainColor":"#222","tickColor":"#222","tickSize":4,"offset":11,"grid":false,"labelFontSize":10.5,"labelColor":"#111","labelPadding":1,"labelFlush":false,"labelOverlap":false}},
"y":{"field":"hi","type":"quantitative","axis":{"title":null,"values":[0,5,10,15,20,25],"labelExpr":"indexof([0,10,25], datum.value) >= 0 ? datum.label : ''","domain":false,"ticks":false,"gridColor":"#e6e6e6","labelFontSize":10.5,"labelPadding":4,"labelOverlap":false}}}}
]}
]
}
]
}
